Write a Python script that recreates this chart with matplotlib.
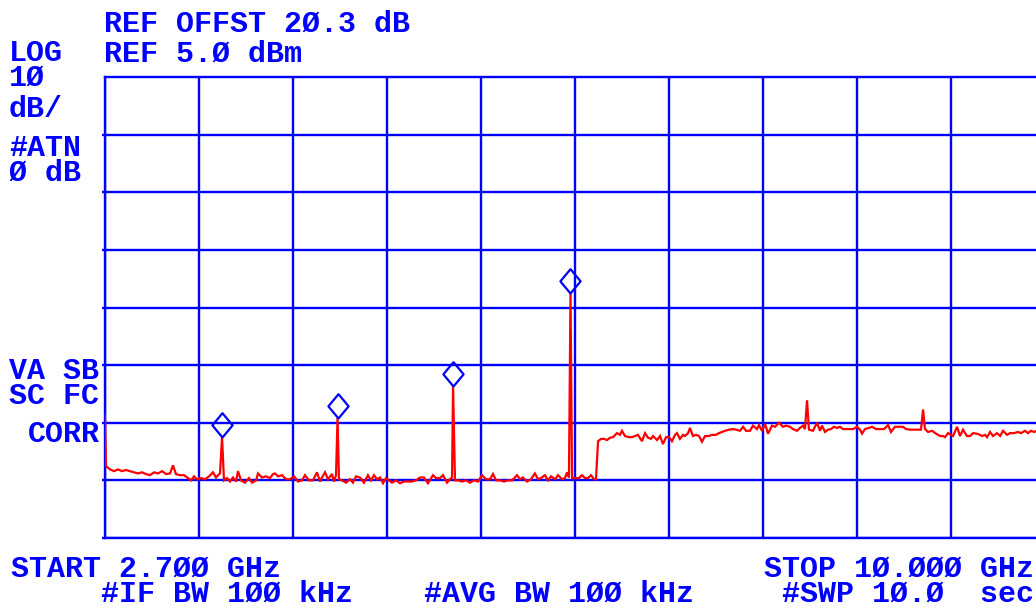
import numpy as np
import matplotlib
matplotlib.use("Agg")
import matplotlib.pyplot as plt
from matplotlib.path import Path

# ---------------- data ----------------
start_mhz = 2700.0
stop_mhz = 10000.0
ref_level_dbm = 5.0
db_per_div = 10.0
n_xdiv = 10
n_ydiv = 8

trace_freq_mhz = [
    2700, 2708, 2739, 2770, 2801, 2832, 2863, 2894, 2925, 2956, 2987, 3018, 3049, 3081, 3112, 3143,
    3174, 3205, 3228, 3251, 3282, 3314, 3345, 3368, 3391, 3414, 3446, 3477, 3508, 3539, 3562, 3578,
    3593, 3609, 3624, 3647, 3671, 3694, 3717, 3733, 3756, 3787, 3818, 3842, 3873,
    3888, 3919, 3950, 3981, 4005, 4020, 4044, 4075, 4106, 4137, 4168, 4199, 4230, 4253, 4284, 4315,
    4346, 4370, 4385, 4409, 4432, 4463, 4478, 4494, 4506, 4517, 4541, 4572, 4603, 4626, 4649, 4680,
    4711, 4742, 4766, 4789, 4812, 4836, 4859, 4882, 4906, 4929, 4960, 4991, 5022, 5053, 5084,
    5115, 5146, 5177, 5208, 5247, 5271, 5302, 5325, 5356, 5379, 5395, 5403, 5418, 5441, 5472, 5504,
    5535, 5566, 5597, 5628, 5659, 5690, 5713, 5737, 5768, 5799, 5830, 5861, 5900, 5923, 5946, 5977,
    6008, 6039, 6063, 6086, 6117, 6140, 6164, 6195, 6218, 6249, 6272, 6288, 6303, 6315, 6327,
    6350, 6381, 6404, 6428, 6451, 6474, 6498, 6513, 6529, 6552, 6575, 6599, 6622, 6645, 6676, 6699,
    6715, 6738, 6769, 6793, 6816, 6839, 6870, 6894, 6917, 6940, 6956, 6987, 7010, 7033, 7057, 7080,
    7103, 7127, 7142, 7165, 7189, 7204, 7228, 7243, 7266, 7290, 7313, 7336, 7360, 7391, 7414, 7445,
    7468, 7492,
    7515, 7546, 7577, 7600, 7631, 7655, 7678, 7709, 7732, 7763, 7779, 7802, 7826, 7849, 7880, 7903,
    7934, 7965, 7989, 8020, 8043, 8074, 8097, 8121, 8136, 8152, 8167, 8198, 8229, 8253, 8268, 8292,
    8315, 8338, 8361, 8385, 8408, 8431, 8462, 8486, 8509, 8540, 8563, 8579, 8602, 8633, 8657,
    8688, 8719, 8750, 8781, 8804, 8835, 8866, 8897, 8921, 8952, 8983, 9014, 9037, 9053, 9068, 9091,
    9123, 9154, 9185, 9208, 9224, 9247, 9270, 9286, 9317, 9340, 9363, 9394, 9418, 9441, 9472, 9495,
    9511, 9534, 9550, 9573, 9596, 9627, 9651, 9674, 9705, 9728, 9759, 9790, 9814, 9845, 9868, 9891,
    9915, 9938, 10000,
]

trace_level_dbm = [
    -53.6, -62.5, -63.1, -63.4, -63.1, -63.4, -63.2, -63.4, -63.6, -63.8, -63.6, -63.9, -64.1, -63.6, -63.8, -63.4,
    -63.9, -63.8, -62.4, -63.9, -64.1, -64.1, -64.6, -65.0, -64.3, -64.8, -64.6, -64.8, -64.3, -63.6, -64.5, -64.1,
    -63.8, -57.5, -65.0, -64.6, -65.2, -64.5, -65.2, -63.4, -65.0, -65.4, -64.6, -65.4, -65.0,
    -63.8, -64.5, -64.3, -64.6, -63.9, -63.8, -64.3, -64.1, -64.8, -64.8, -64.3, -65.2, -65.0, -64.1, -65.0, -65.0,
    -63.6, -65.2, -64.5, -63.6, -64.8, -63.9, -65.2, -64.1, -54.1, -64.8, -65.0, -65.4, -64.8, -65.4, -64.3, -64.5,
    -65.4, -64.1, -65.0, -64.1, -64.8, -64.5, -65.5, -64.6, -65.0, -65.4, -65.0, -65.5, -65.2, -65.2, -65.2,
    -65.0, -64.5, -64.5, -65.5, -64.1, -64.6, -64.6, -64.1, -65.4, -64.8, -64.5, -48.7, -65.0, -65.0, -65.2, -65.0,
    -65.4, -65.0, -65.2, -64.1, -64.8, -64.8, -63.9, -65.0, -65.0, -65.2, -65.0, -65.0, -64.1, -64.8, -64.5, -65.2,
    -64.8, -63.8, -64.8, -64.6, -64.1, -65.0, -64.3, -64.8, -64.1, -64.8, -64.6, -63.6, -64.5, -32.5, -64.6,
    -64.6, -64.6, -64.1, -64.6, -64.6, -64.1, -64.8, -64.8, -58.2, -57.8, -57.8, -58.0, -57.6, -57.5, -56.8, -57.1,
    -56.4, -57.3, -57.5, -57.5, -57.3, -57.1, -58.2, -56.8, -57.6, -57.8, -57.3, -58.0, -57.3, -58.7, -57.5, -57.5,
    -58.2, -57.1, -56.8, -57.8, -57.1, -57.3, -56.8, -55.9, -57.3, -57.1, -57.3, -58.3, -57.3, -57.3, -57.1, -57.1,
    -56.8, -56.6,
    -56.4, -56.2, -56.1, -56.2, -56.4, -55.7, -56.4, -56.4, -55.5, -56.1, -55.4, -56.4, -55.2, -56.9, -55.5, -55.7,
    -55.0, -55.7, -55.5, -55.7, -56.1, -56.4, -55.9, -55.5, -56.1, -51.1, -56.2, -56.4, -55.0, -56.4, -55.5, -56.6,
    -56.2, -56.1, -55.7, -55.9, -55.7, -56.1, -56.1, -56.1, -56.1, -55.7, -56.2, -56.9, -56.1, -55.9, -55.7,
    -56.1, -56.1, -56.1, -55.4, -56.6, -55.7, -55.7, -55.7, -56.1, -56.2, -56.2, -56.2, -56.2, -52.7, -56.1, -56.6,
    -56.4, -56.9, -57.3, -57.3, -57.5, -56.8, -57.1, -57.3, -55.7, -57.3, -56.2, -57.3, -57.3, -56.8, -56.9, -57.1,
    -57.3, -57.1, -57.5, -56.6, -57.3, -56.8, -57.3, -56.4, -57.1, -56.8, -56.8, -56.6, -56.8, -56.4, -56.8, -56.4,
    -56.6, -56.4, -56.5,
]

marker_freq_mhz = [3609, 4506, 5403, 6315]
marker_level_dbm = [-57.5, -54.1, -48.7, -32.5]

# ---------------- style ----------------
BLUE = "#0000FF"
RED = "#FF0000"
W, H = 1036, 610
FONT = ["Liberation Mono", "DejaVu Sans Mono"]
FSIZE = 21.6

fig = plt.figure(figsize=(W / 100, H / 100), dpi=100)
fig.patch.set_facecolor("white")

left_px, right_px, top_px, bottom_px = 105, 1045, 77, 538
ax = fig.add_axes([left_px / W, 1 - bottom_px / H,
                   (right_px - left_px) / W, (bottom_px - top_px) / H])
ax.set_facecolor("white")

bottom_level = ref_level_dbm - n_ydiv * db_per_div
ax.set_xlim(start_mhz, stop_mhz)
ax.set_ylim(bottom_level, ref_level_dbm)

ax.set_xticks(np.linspace(start_mhz, stop_mhz, n_xdiv + 1))
ax.set_yticks(np.arange(bottom_level, ref_level_dbm, db_per_div))
ax.grid(True, color=BLUE, linewidth=1.7)
ax.tick_params(axis="x", length=0, labelbottom=False)
ax.tick_params(axis="y", direction="out", length=2.5, width=1.7, color=BLUE, labelleft=False)
for sp in ax.spines.values():
    sp.set_color(BLUE)
    sp.set_linewidth(1.7)
ax.set_axisbelow(True)

ax.plot(trace_freq_mhz, trace_level_dbm, color=RED, linewidth=1.6, solid_joinstyle="miter", zorder=3)

diamond = Path([(0, 0), (10, 12), (0, 24), (-10, 12), (0, 0)],
               [Path.MOVETO, Path.LINETO, Path.LINETO, Path.LINETO, Path.CLOSEPOLY])
ax.plot(marker_freq_mhz, marker_level_dbm, linestyle="none", marker=diamond,
        markersize=35, markerfacecolor="none", markeredgecolor=BLUE,
        markeredgewidth=1.6, zorder=4, clip_on=False)

# measure the line pitch (px) that linespacing=1 gives, to set exact pitches
renderer = fig.canvas.get_renderer()
kw = dict(family=FONT, fontweight="bold", fontsize=FSIZE)
t1 = fig.text(0, 0, "SC", linespacing=1.0, **kw)
t2 = fig.text(0, 0, "SC\nSC", linespacing=1.0, **kw)
pitch_unit = t2.get_window_extent(renderer).height - t1.get_window_extent(renderer).height
t1.remove()
t2.remove()

labels = [
    # text, x px, LAST-line baseline px, line pitch px
    ("REF OFFST 2Ø.3 dB", 104, 32, 24),
    ("REF 5.Ø dBm", 104, 62, 24),
    ("LOG\n1Ø", 9, 86, 24),
    ("dB/", 9, 117, 24),
    ("#ATN\nØ dB", 9, 181, 24),
    ("VA SB\nSC FC", 9, 404, 24),
    ("CORR", 28, 442, 24),
    ("START 2.7ØØ GHz\n     #IF BW 1ØØ kHz", 11, 602, 25),
    ("STOP 1Ø.ØØØ GHz\n #SWP 1Ø.Ø  sec", 764, 602, 25),
    ("#AVG BW 1ØØ kHz", 424, 602, 25),
]
for s, x, y, pitch in labels:
    fig.text(x / W, 1 - y / H, s, color=BLUE, ha="left", va="baseline",
             multialignment="left", linespacing=pitch / pitch_unit, **kw)

fig.savefig("out.png", dpi=100, facecolor="white")
